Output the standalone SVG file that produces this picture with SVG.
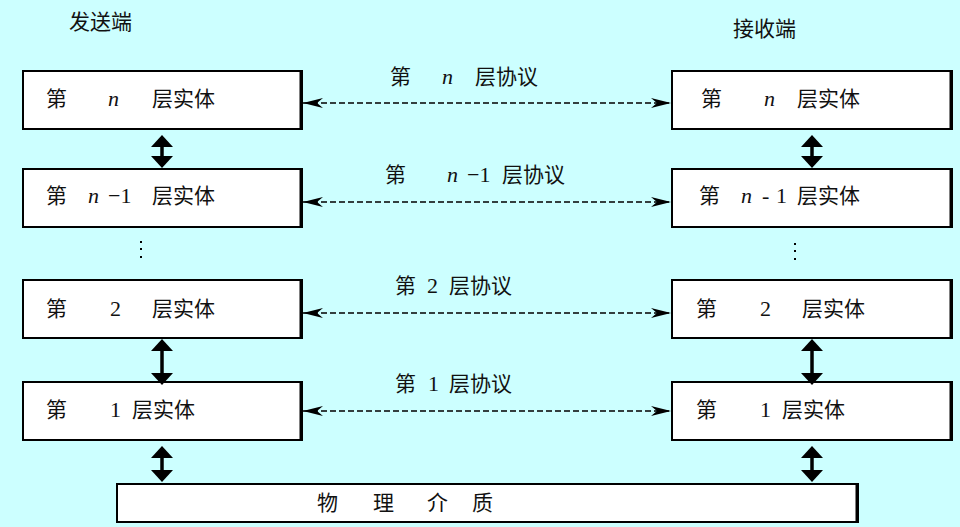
<svg xmlns="http://www.w3.org/2000/svg" width="960" height="527" viewBox="0 0 960 527">
<style>
.box{fill:#ffffff;stroke:#000;stroke-width:2}
.edge{stroke:#000;stroke-width:3}
.cjk{font-family:"Noto Sans CJK SC","Noto Sans",sans-serif;font-size:21px;fill:#111}
.lat{font-family:"Liberation Serif",serif;font-size:22px;fill:#111}
.it{font-style:italic}
.dash{stroke:#000;stroke-width:1.4;stroke-dasharray:6 3;fill:none;marker-start:url(#stealth);marker-end:url(#stealth)}
.vert{stroke:#000;stroke-width:3.5;fill:none;marker-start:url(#solid);marker-end:url(#solid)}
</style>
<defs>
<marker id="stealth" markerUnits="userSpaceOnUse" viewBox="0 0 20 10" refX="20" refY="5" markerWidth="20" markerHeight="10" orient="auto-start-reverse">
<path d="M0,0 L20,5 L0,10 L6,5 z" fill="#000"/>
</marker>
<marker id="solid" markerUnits="userSpaceOnUse" viewBox="0 0 12 22" refX="0" refY="11" markerWidth="12" markerHeight="22" orient="auto-start-reverse">
<path d="M0,0 L12,11 L0,22 z" fill="#000"/>
</marker>
</defs>
<rect width="960" height="527" fill="#ccffff"/>

<text class="cjk" x="69" y="29">发送端</text>
<text class="cjk" x="733" y="36">接收端</text>

<g id="send-n">
<rect class="box" x="23" y="71" width="279" height="58"/>
<line class="edge" x1="301" y1="70" x2="301" y2="130"/>
<text class="cjk" x="46" y="106">第</text>
<text class="lat it" x="108" y="106">n</text>
<text class="cjk" x="152" y="106">层实体</text>
</g>
<g id="send-n1">
<rect class="box" x="23" y="169" width="279" height="58"/>
<line class="edge" x1="301" y1="168" x2="301" y2="228"/>
<text class="cjk" x="46" y="203">第</text>
<text class="lat" x="88" y="203"><tspan class="it">n</tspan><tspan x="108">−1</tspan></text>
<text class="cjk" x="152" y="203">层实体</text>
</g>
<g id="send-dots">
<rect x="140" y="241" width="2" height="2" fill="#000"/>
<rect x="140" y="248" width="2" height="2" fill="#000"/>
<rect x="140" y="256" width="2" height="2" fill="#000"/>
</g>
<g id="send-2">
<rect class="box" x="23" y="280" width="279" height="58"/>
<line class="edge" x1="301" y1="279" x2="301" y2="339"/>
<text class="cjk" x="46" y="316">第</text>
<text class="lat" x="110" y="316">2</text>
<text class="cjk" x="152" y="316">层实体</text>
</g>
<g id="send-1">
<rect class="box" x="23" y="382" width="279" height="58"/>
<line class="edge" x1="301" y1="381" x2="301" y2="441"/>
<text class="cjk" x="46" y="417">第</text>
<text class="lat" x="110" y="417">1</text>
<text class="cjk" x="132" y="417">层实体</text>
</g>

<g id="recv-n">
<rect class="box" x="672" y="71" width="280" height="58"/>
<line class="edge" x1="951" y1="70" x2="951" y2="130"/>
<text class="cjk" x="701" y="106">第</text>
<text class="lat it" x="764" y="106">n</text>
<text class="cjk" x="797" y="106">层实体</text>
</g>
<g id="recv-n1">
<rect class="box" x="672" y="169" width="280" height="58"/>
<line class="edge" x1="951" y1="168" x2="951" y2="228"/>
<text class="cjk" x="699" y="203">第</text>
<text class="lat" x="741" y="203"><tspan class="it">n</tspan><tspan x="762">-</tspan><tspan x="776">1</tspan></text>
<text class="cjk" x="797" y="203">层实体</text>
</g>
<g id="recv-dots">
<rect x="794" y="243" width="2" height="2" fill="#000"/>
<rect x="794" y="250" width="2" height="2" fill="#000"/>
<rect x="794" y="258" width="2" height="2" fill="#000"/>
</g>
<g id="recv-2">
<rect class="box" x="672" y="280" width="280" height="58"/>
<line class="edge" x1="951" y1="279" x2="951" y2="339"/>
<text class="cjk" x="696" y="316">第</text>
<text class="lat" x="760" y="316">2</text>
<text class="cjk" x="802" y="316">层实体</text>
</g>
<g id="recv-1">
<rect class="box" x="672" y="382" width="280" height="58"/>
<line class="edge" x1="951" y1="381" x2="951" y2="441"/>
<text class="cjk" x="696" y="417">第</text>
<text class="lat" x="760" y="417">1</text>
<text class="cjk" x="782" y="417">层实体</text>
</g>

<g id="medium">
<rect class="box" x="117" y="484" width="741" height="38"/>
<line class="edge" x1="857" y1="483" x2="857" y2="523"/>
<text class="cjk" x="317" y="510">物</text>
<text class="cjk" x="373" y="510">理</text>
<text class="cjk" x="427" y="510">介</text>
<text class="cjk" x="472" y="510">质</text>
</g>

<g id="connectors">
<line class="dash" x1="303" y1="103" x2="671" y2="103"/>
<line class="dash" x1="303" y1="202" x2="671" y2="202"/>
<line class="dash" x1="303" y1="313" x2="671" y2="313"/>
<line class="dash" x1="303" y1="411" x2="671" y2="411"/>
<line class="vert" x1="162" y1="147" x2="162" y2="156"/>
<line class="vert" x1="162" y1="351" x2="162" y2="373"/>
<line class="vert" x1="162" y1="458" x2="162" y2="470"/>
<line class="vert" x1="812" y1="147" x2="812" y2="156"/>
<line class="vert" x1="812" y1="351" x2="812" y2="373"/>
<line class="vert" x1="812" y1="458" x2="812" y2="470"/>
</g>

<g id="labels">
<text class="cjk" x="390" y="84">第</text>
<text class="lat it" x="442" y="84">n</text>
<text class="cjk" x="475" y="84">层协议</text>
<text class="cjk" x="385" y="182">第</text>
<text class="lat" x="447" y="182"><tspan class="it">n</tspan><tspan x="467">−1</tspan></text>
<text class="cjk" x="502" y="182">层协议</text>
<text class="cjk" x="395" y="293">第</text>
<text class="lat" x="427" y="293">2</text>
<text class="cjk" x="449" y="293">层协议</text>
<text class="cjk" x="395" y="391">第</text>
<text class="lat" x="428" y="391">1</text>
<text class="cjk" x="449" y="391">层协议</text>
</g>
</svg>
